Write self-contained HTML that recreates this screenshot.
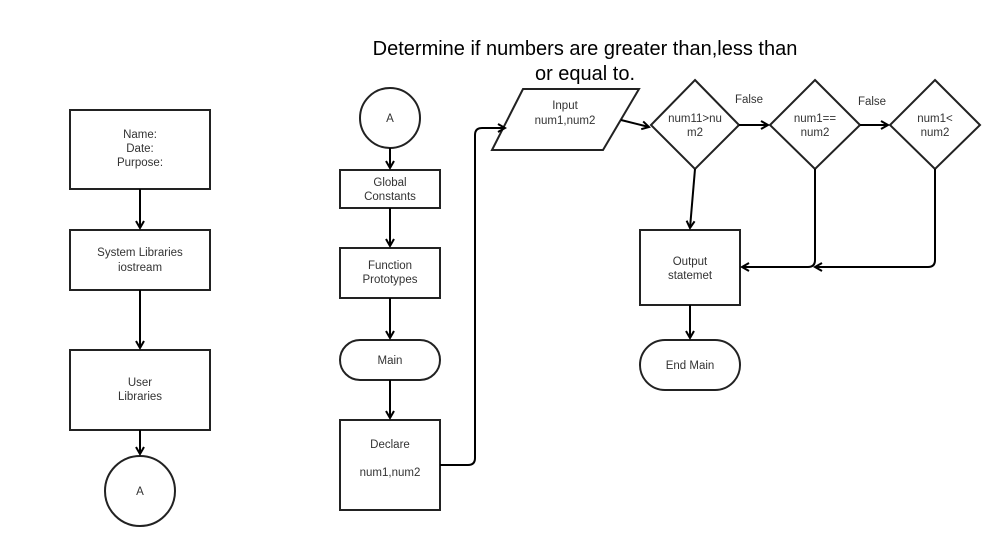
<!DOCTYPE html>
<html><head><style>body{margin:0;background:#fff}svg text{font-family:"Liberation Sans",sans-serif;fill:#333}</style></head>
<body>
<svg width="1005" height="550" viewBox="0 0 1005 550" xmlns="http://www.w3.org/2000/svg">
<defs><marker id="a" markerWidth="10" markerHeight="10" refX="8" refY="5" orient="auto" markerUnits="userSpaceOnUse"><path d="M1,1 L8,5 L1,9" fill="none" stroke="#000" stroke-width="2"/></marker></defs>
<g fill="#fff" stroke="#222" stroke-width="2">
<rect x="70" y="110" width="140" height="79"/>
<rect x="70" y="230" width="140" height="60"/>
<rect x="70" y="350" width="140" height="80"/>
<circle cx="140" cy="491" r="35"/>
<circle cx="390" cy="118" r="30"/>
<rect x="340" y="170" width="100" height="38"/>
<rect x="340" y="248" width="100" height="50"/>
<rect x="340" y="340" width="100" height="40" rx="20"/>
<rect x="340" y="420" width="100" height="90"/>
<polygon points="523,89 639,89 603,150 492,150"/>
<polygon points="695,80 739,125 695,169 651,125"/>
<polygon points="815,80 860,125 815,169 770,125"/>
<polygon points="935,80 980,125 935,169 890,125"/>
<rect x="640" y="230" width="100" height="75"/>
<rect x="640" y="340" width="100" height="50" rx="25"/>
</g>
<g fill="none" stroke="#000" stroke-width="2" marker-end="url(#a)">
<path d="M140 189 V228"/><path d="M140 290 V348"/><path d="M140 430 V454"/>
<path d="M390 148 V168"/><path d="M390 208 V246"/><path d="M390 298 V338"/><path d="M390 380 V418"/>
<path d="M440 465 H468 Q475 465 475 458 V135 Q475 128 482 128 H505"/>
<path d="M621 120 L649 127"/>
<path d="M739 125 H768"/><path d="M860 125 H888"/>
<path d="M695 169 L690 228"/>
<path d="M690 305 V338"/>
<path d="M815 169 V260 Q815 267 808 267 H742"/>
<path d="M935 169 V260 Q935 267 928 267 H815" marker-end=""/>
</g>
<g font-size="11.5" text-anchor="middle">
<text x="140" y="138">Name:</text><text x="140" y="152">Date:</text><text x="140" y="166">Purpose:</text>
<text x="140" y="256">System Libraries</text><text x="140" y="271">iostream</text>
<text x="140" y="386">User</text><text x="140" y="400">Libraries</text>
<text x="140" y="495">A</text><text x="390" y="122">A</text>
<text x="390" y="186">Global</text><text x="390" y="200">Constants</text>
<text x="390" y="269">Function</text><text x="390" y="283">Prototypes</text>
<text x="390" y="364">Main</text>
<text x="390" y="448">Declare</text><text x="390" y="476">num1,num2</text>
<text x="565" y="109">Input</text><text x="565" y="124">num1,num2</text>
<text x="695" y="122">num11&gt;nu</text><text x="695" y="136">m2</text>
<text x="815" y="122">num1==</text><text x="815" y="136">num2</text>
<text x="935" y="122">num1&lt;</text><text x="935" y="136">num2</text>
<text x="749" y="103">False</text><text x="872" y="105">False</text>
<text x="690" y="265">Output</text><text x="690" y="279">statemet</text>
<text x="690" y="369">End Main</text>
</g>
<g font-size="20" text-anchor="middle">
<text x="585" y="55" style="fill:#000">Determine if numbers are greater than,less than</text>
<text x="585" y="80" style="fill:#000">or equal to.</text>
</g>
</svg>
</body></html>
